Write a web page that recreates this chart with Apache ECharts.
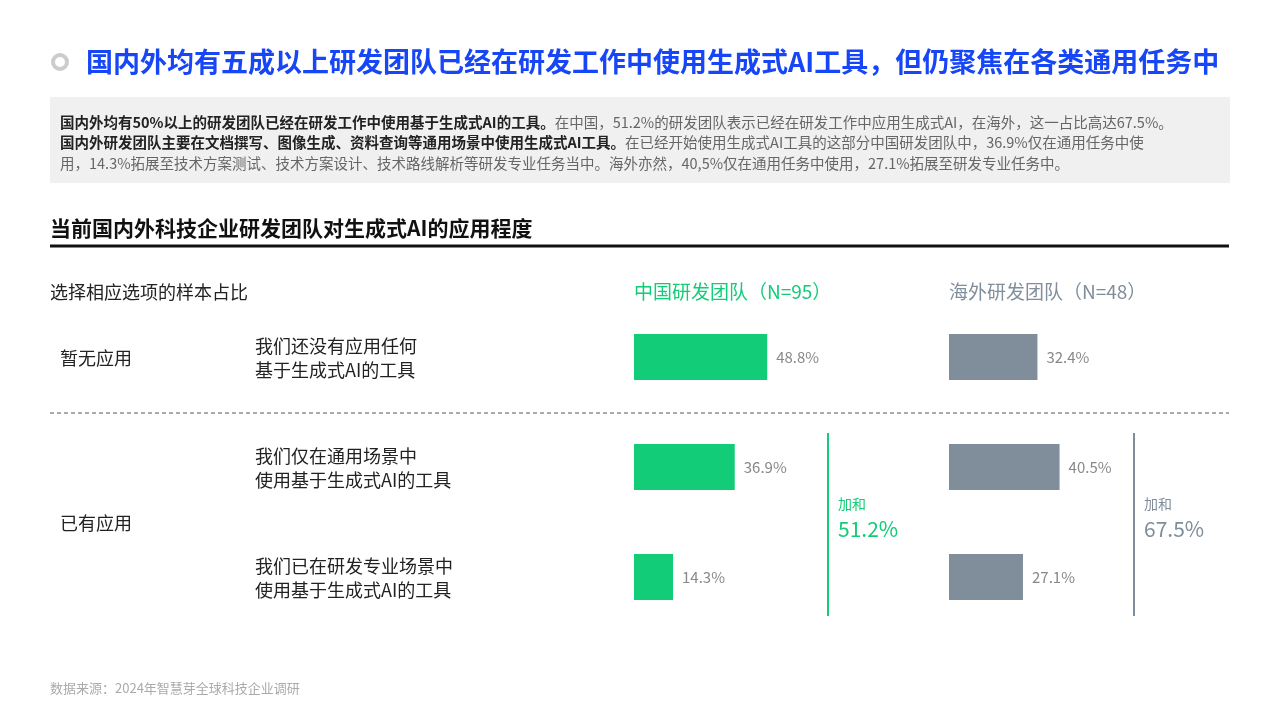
<!DOCTYPE html>
<html><head><meta charset="utf-8">
<script src="https://cdn.jsdelivr.net/npm/echarts@6/dist/echarts.min.js"></script>
<style>html,body{margin:0;background:#fff}#c{width:1280px;height:720px}</style>
</head><body><div id="c"></div>
<script>
var rows = ['暂无应用', '仅通用', '专业'];
var cnVals = [48.8, 36.9, 14.3];
var osVals = [32.4, 40.5, 27.1];
var cnSum = '51.2%', osSum = '67.5%';
var F = '"Noto Sans CJK SC", "Noto Sans", sans-serif';

var chart = echarts.init(document.getElementById('c'));

function grid(left) { return { left: left, top: 302, width: 273, height: 330 }; }
function xa(i) { return { gridIndex: i, type: 'value', min: 0, max: 100, show: false }; }
function ya(i) { return { gridIndex: i, type: 'category', data: rows, inverse: true, show: false }; }
function bars(i, vals, color) {
  return {
    type: 'bar', xAxisIndex: i, yAxisIndex: i, data: vals, barWidth: 46,
    itemStyle: { color: color },
    label: { show: true, position: 'right', distance: 9, color: '#888', fontSize: 15, fontFamily: F,
      formatter: function (p) { return p.value.toFixed(1) + '%'; } },
    silent: true
  };
}
function txt(x, y, t, size, color, weight) {
  return { type: 'text', x: x, y: y, style: { text: t, fontSize: size, fill: color,
    fontWeight: weight || 'normal', fontFamily: F, textVerticalAlign: 'middle', lineHeight: 24 } };
}

chart.setOption({
  animation: false,
  grid: [grid(634), grid(949)],
  xAxis: [xa(0), xa(1)],
  yAxis: [ya(0), ya(1)],
  series: [bars(0, cnVals, '#12cc78'), bars(1, osVals, '#808e9b')],
  graphic: [
    { type: 'circle', shape: { cx: 60, cy: 62, r: 7 }, style: { fill: 'none', stroke: '#ccc', lineWidth: 4 } },
    txt(86, 62, '国内外均有五成以上研发团队已经在研发工作中使用生成式AI工具，但仍聚焦在各类通用任务中', 27, '#1646f5', 'bold'),
    { type: 'rect', shape: { x: 50, y: 97, width: 1180, height: 86 }, style: { fill: '#f0f0f0' } },
    { type: 'text', x: 60, y: 112, style: {
      fontFamily: F, fontSize: 14.5, lineHeight: 20.5, fill: '#666',
      text: '{b|国内外均有50%以上的研发团队已经在研发工作中使用基于生成式AI的工具。}在中国，51.2%的研发团队表示已经在研发工作中应用生成式AI，在海外，这一占比高达67.5%。\n' +
            '{b|国内外研发团队主要在文档撰写、图像生成、资料查询等通用场景中使用生成式AI工具。}在已经开始使用生成式AI工具的这部分中国研发团队中，36.9%仅在通用任务中使\n' +
            '用，14.3%拓展至技术方案测试、技术方案设计、技术路线解析等研发专业任务当中。海外亦然，40,5%仅在通用任务中使用，27.1%拓展至研发专业任务中。',
      rich: { b: { fontWeight: 'bold', fill: '#222', fontSize: 14.5, fontFamily: F } } } },
    txt(50, 228, '当前国内外科技企业研发团队对生成式AI的应用程度', 21, '#111', 'bold'),
    { type: 'line', shape: { x1: 50, y1: 246, x2: 1229, y2: 246 }, style: { stroke: '#111', lineWidth: 3 } },
    txt(50, 292, '选择相应选项的样本占比', 18, '#222'),
    txt(634, 292, '中国研发团队（N=95）', 19, '#12cc78'),
    txt(949, 292, '海外研发团队（N=48）', 19, '#808e9b'),
    txt(60, 358, '暂无应用', 18, '#222'),
    txt(255, 358, '我们还没有应用任何\n基于生成式AI的工具', 18, '#222'),
    { type: 'line', shape: { x1: 50, y1: 413, x2: 1229, y2: 413 }, style: { stroke: '#555', lineWidth: 1, lineDash: [4, 3] } },
    txt(60, 523, '已有应用', 18, '#222'),
    txt(255, 468, '我们仅在通用场景中\n使用基于生成式AI的工具', 18, '#222'),
    txt(255, 578, '我们已在研发专业场景中\n使用基于生成式AI的工具', 18, '#222'),
    { type: 'line', shape: { x1: 828, y1: 433, x2: 828, y2: 616 }, style: { stroke: '#12cc78', lineWidth: 2 } },
    { type: 'line', shape: { x1: 1134, y1: 433, x2: 1134, y2: 616 }, style: { stroke: '#808e9b', lineWidth: 2 } },
    txt(838, 504, '加和', 14, '#12cc78'),
    txt(838, 529, cnSum, 21, '#12cc78'),
    txt(1144, 504, '加和', 14, '#808e9b'),
    txt(1144, 529, osSum, 21, '#808e9b'),
    txt(50, 688, '数据来源：2024年智慧芽全球科技企业调研', 13, '#aaa')
  ]
});
</script></body></html>
